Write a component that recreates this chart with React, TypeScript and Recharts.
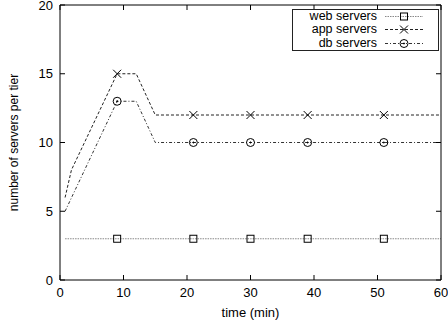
import { Line, LineChart, XAxis, YAxis } from "recharts"

const xTicks = [0, 10, 20, 30, 40, 50, 60]
const yTicks = [0, 5, 10, 15, 20]

const webTimes = [0.8, 9, 21, 30, 39, 51, 60]
const webValues = [3, 3, 3, 3, 3, 3, 3]

const appTimes = [0.8, 1.8, 9, 12, 15, 21, 30, 39, 51, 60]
const appValues = [6, 8, 15, 15, 12, 12, 12, 12, 12, 12]

const dbTimes = [0.8, 9, 12, 15, 21, 30, 39, 51, 60]
const dbValues = [5, 13, 13, 10, 10, 10, 10, 10, 10]

const markerTimes = [9, 21, 30, 39, 51]

const seriesNames = ["web servers", "app servers", "db servers"]

const toRows = (times: number[], values: number[]) =>
  times.map((t, i) => ({ t, v: values[i] }))

const webData = toRows(webTimes, webValues)
const appData = toRows(appTimes, appValues)
const dbData = toRows(dbTimes, dbValues)

const font = "'Liberation Sans', Arial, sans-serif"

type Shape = "square" | "cross" | "circle"

function Marker({ shape, cx, cy }: { shape: Shape; cx: number; cy: number }) {
  if (shape === "square")
    return <rect x={cx - 3.5} y={cy - 3.5} width={7} height={7} fill="none" stroke="#000" strokeWidth={1} />
  if (shape === "cross")
    return (
      <g stroke="#000" strokeWidth={1}>
        <line x1={cx - 4} y1={cy - 4} x2={cx + 4} y2={cy + 4} />
        <line x1={cx - 4} y1={cy + 4} x2={cx + 4} y2={cy - 4} />
      </g>
    )
  return (
    <g fill="none" stroke="#000" strokeWidth={1}>
      <circle cx={cx} cy={cy} r={4} />
      <circle cx={cx} cy={cy} r={0.6} fill="#000" />
    </g>
  )
}

const makeDot = (shape: Shape) => (props: any) => {
  const { cx, cy, payload, index } = props
  if (!markerTimes.includes(payload.t)) return <g key={index} />
  return (
    <g key={index}>
      <Marker shape={shape} cx={cx} cy={cy} />
    </g>
  )
}

// top/right axes: tick lines only, no labels
const noLabel = (p: any) => <g key={p.index} />

const styles = [
  { stroke: "#888", dash: "1.5 1", shape: "square" as Shape },
  { stroke: "#222", dash: "3 2", shape: "cross" as Shape },
  { stroke: "#333", dash: "3 2 1 2", shape: "circle" as Shape },
]

// web series sits on the top/right axes (same domains), the others on bottom/left
const axisIds = [
  { x: "t", y: "r" },
  { x: "b", y: "l" },
  { x: "b", y: "l" },
]

function Legend() {
  return (
    <div
      style={{
        position: "absolute",
        left: 292,
        top: 9,
        width: 145,
        height: 40,
        border: "1px solid #222",
        background: "#fff",
        fontFamily: font,
        fontSize: 12.5,
        color: "#000",
      }}
    >
      {seriesNames.map((name, i) => (
        <div key={name} style={{ display: "flex", alignItems: "center", height: 13.3, overflow: "hidden" }}>
          <div style={{ width: 84, textAlign: "right", lineHeight: "13px" }}>{name}</div>
          <svg width={40} height={13} style={{ marginLeft: 8 }}>
            <line x1={0} y1={6.5} x2={38} y2={6.5} stroke={styles[i].stroke} strokeDasharray={styles[i].dash} />
            <Marker shape={styles[i].shape} cx={19} cy={6.5} />
          </svg>
        </div>
      ))}
    </div>
  )
}

export default function App() {
  return (
    <div style={{ position: "absolute", left: 0, top: 0, width: 448, height: 324, background: "#fff" }}>
      <LineChart width={448} height={324} margin={{ top: 4, right: 6, left: 0, bottom: 0 }}>
        <XAxis
          xAxisId="b"
          type="number"
          dataKey="t"
          domain={[0, 60]}
          ticks={xTicks}
          interval={0}
          allowDataOverflow
          height={44}
          tickSize={-5}
          tickMargin={13}
          stroke="#000"
          tick={{ fill: "#000", fontSize: 13, fontFamily: font }}
          label={{ value: "time (min)", position: "insideBottom", offset: 7, fill: "#000", fontSize: 13, fontFamily: font }}
        />
        <XAxis
          xAxisId="t"
          orientation="top"
          type="number"
          dataKey="t"
          domain={[0, 60]}
          ticks={xTicks}
          interval={0}
          allowDataOverflow
          height={1}
          tickSize={-5}
          tick={noLabel}
          stroke="#000"
        />
        <YAxis
          yAxisId="l"
          type="number"
          domain={[0, 20]}
          ticks={yTicks}
          interval={0}
          width={60}
          tickSize={-5}
          tickMargin={12}
          stroke="#000"
          tick={{ fill: "#000", fontSize: 13, fontFamily: font }}
          label={{
            content: (p: any) => {
              const vb = p.viewBox || { x: 0, y: 5, width: 60, height: 275 }
              const x = vb.x + 14
              const y = vb.y + vb.height / 2
              return (
                <text
                  x={x}
                  y={y}
                  transform={`rotate(-90 ${x} ${y})`}
                  textAnchor="middle"
                  dominantBaseline="central"
                  fontSize={12}
                  fontFamily={font}
                  fill="#000"
                >
                  number of servers per tier
                </text>
              )
            },
          }}
        />
        <YAxis
          yAxisId="r"
          orientation="right"
          type="number"
          domain={[0, 20]}
          ticks={yTicks}
          interval={0}
          width={1}
          tickSize={-5}
          tick={noLabel}
          stroke="#000"
        />
        {[webData, appData, dbData].map((d, i) => (
          <Line
            key={seriesNames[i]}
            xAxisId={axisIds[i].x}
            yAxisId={axisIds[i].y}
            data={d}
            dataKey="v"
            name={seriesNames[i]}
            type="linear"
            stroke={styles[i].stroke}
            strokeWidth={1}
            strokeDasharray={styles[i].dash}
            dot={makeDot(styles[i].shape)}
            activeDot={false}
            isAnimationActive={false}
          />
        ))}
      </LineChart>
      <Legend />
    </div>
  )
}
